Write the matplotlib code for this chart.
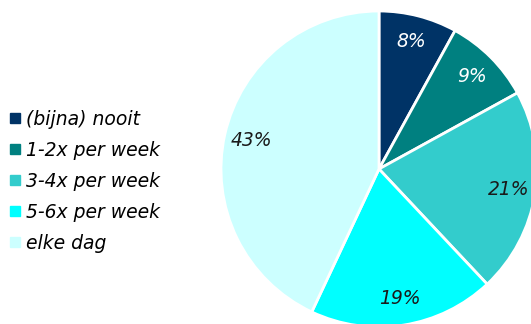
import matplotlib
matplotlib.use("Agg")
import matplotlib.pyplot as plt
from matplotlib.lines import Line2D

labels = ["(bijna) nooit", "1-2x per week", "3-4x per week", "5-6x per week", "elke dag"]
values = [8, 9, 21, 19, 43]
colors = ["#003366", "#008080", "#33CCCC", "#00FFFF", "#CCFFFF"]
text_colors = ["white", "white", "#1a1a1a", "#1a1a1a", "#1a1a1a"]

plt.rcParams["font.family"] = "DejaVu Sans"

fig = plt.figure(figsize=(5.31, 3.24), dpi=100)
# pie radius 158 px, centre at (379, 169) px; right edge runs past the figure
ax = fig.add_axes([(379 - 158) / 531, (324 - 169 - 158) / 324, 316 / 531, 316 / 324])
wedges, texts, autotexts = ax.pie(
    values, colors=colors, startangle=90, counterclock=False,
    autopct="%d%%", pctdistance=0.83,
    wedgeprops=dict(edgecolor="white", linewidth=2),
    textprops=dict(fontsize=13.5, style="italic"),
)
for t, c in zip(autotexts, text_colors):
    t.set_color(c)
for w in wedges:
    w.set_clip_on(False)
ax.set_xlim(-1, 1)
ax.set_ylim(-1, 1)
ax.set_aspect("equal")

handles = [Line2D([], [], marker="s", linestyle="none", markersize=6.5,
                  markerfacecolor=c, markeredgecolor=c) for c in colors]
fig.legend(handles, labels, loc="upper left", bbox_to_anchor=(0.005, 1 - 102 / 324),
           frameon=False, prop=dict(size=13.5, style="italic"),
           handlelength=0.5, handletextpad=0.35, labelspacing=0.64, borderaxespad=0)

fig.savefig("out.png", dpi=100)
